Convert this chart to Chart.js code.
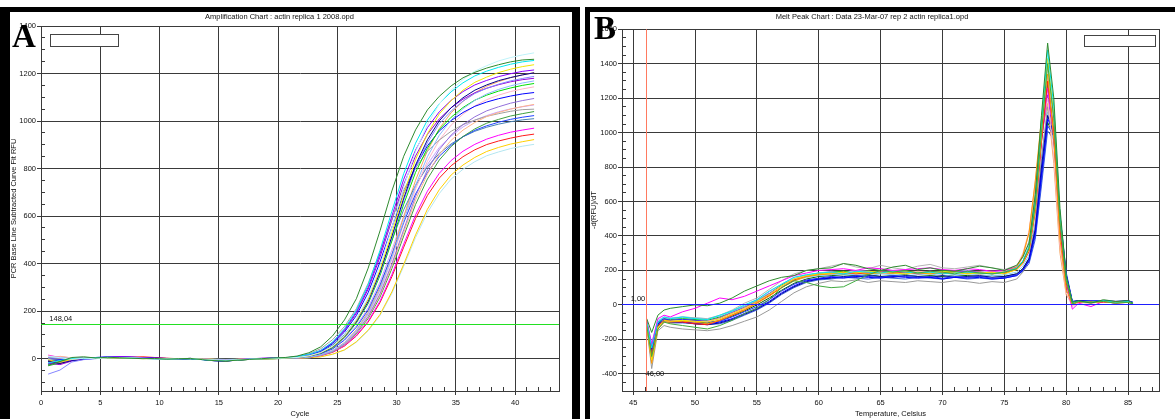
<!DOCTYPE html>
<html>
<head>
<meta charset="utf-8">
<title>Amplification and melt peak charts</title>
<script src="https://cdn.jsdelivr.net/npm/chart.js@4.4.1/dist/chart.umd.min.js"></script>
<style>
  html, body { margin: 0; padding: 0; background: #fff; }
  body { position: relative; width: 1175px; height: 419px; overflow: hidden; }
  canvas { position: absolute; top: 0; }
  #ampChart { left: 0; }
  #meltChart { left: 585px; }
  .frame { position: absolute; top: 7px; height: 440px; box-sizing: border-box; border: 0 solid #000; }
  #frameA { left: 0; width: 580px; border-width: 5px 8px 0 10px; }
  #frameB { left: 585px; width: 620px; border-width: 5px 0 0 5px; }
  .tag { position: absolute; font: bold 33px "Liberation Serif", "Times New Roman", serif; line-height: 1; color: #000; }
  .legendBox { position: absolute; box-sizing: border-box; background: #fff; border: 1px solid #444; }
</style>
</head>
<body>
<canvas id="ampChart" width="580" height="419"></canvas>
<canvas id="meltChart" width="590" height="419"></canvas>
<div class="frame" id="frameA"></div>
<div class="frame" id="frameB"></div>
<div class="legendBox" style="left:50px;top:34px;width:69px;height:13px"></div>
<div class="legendBox" style="left:1084px;top:35px;width:72px;height:12px"></div>
<div class="tag" style="left:12px;top:20px">A</div>
<div class="tag" style="left:594px;top:12px">B</div>
<script>
// ---- panel A : amplification curves (RFU per cycle) ----
const cycles = [0.6, 1.6, 2.6, 3.6, 4.6, 5.6, 6.6, 7.6, 8.6, 9.6, 10.6, 11.6, 12.6, 13.6, 14.6, 15.6, 16.6, 17.6, 18.6, 19.6, 20.6,
  21.6, 22.6, 23.6, 24.6, 25.6, 26.6, 27.6, 28.6, 29.6, 30.6, 31.6, 32.6, 33.6, 34.6, 35.6, 36.6, 37.6, 38.6, 39.6, 40.6, 41.6];

const amp01 = [-28, -12, 5, 8, 3, 6, 4, 2, 0, 1, -2, 0, 1, -4, -8, -10, -6, -3, 0, 3, 5, 11, 25, 50, 96, 163, 252, 381, 538, 706, 852, 963, 1047, 1104, 1148, 1182, 1205, 1223, 1237, 1249, 1257, 1260];
const amp02 = [10, 4, -3, 2, 0, 3, 5, 4, 2, 0, -1, 0, 2, -3, -5, -6, -4, -2, 0, 1, 3, 5, 12, 26, 52, 98, 166, 258, 390, 551, 722, 872, 986, 1072, 1130, 1175, 1210, 1233, 1253, 1267, 1278, 1287];
const amp03 = [-18, -8, 2, 0, 4, 6, 5, 3, 1, 0, -2, -1, 0, -4, -7, -8, -5, -2, 0, 2, 4, 8, 18, 35, 70, 126, 203, 311, 456, 620, 779, 907, 1004, 1073, 1123, 1161, 1190, 1210, 1226, 1239, 1249, 1255];
const amp04 = [-5, -15, -3, 2, 1, 3, 4, 2, 0, 1, -1, 0, 1, -2, -6, -9, -5, -3, -1, 0, 2, 5, 11, 25, 50, 94, 160, 248, 374, 529, 694, 838, 947, 1030, 1086, 1130, 1163, 1185, 1204, 1218, 1229, 1237];
const amp05 = [-22, -15, -5, 0, 3, 8, 9, 7, 4, 2, 0, -1, 1, -3, -6, -8, -4, -1, 2, 3, 4, 7, 17, 34, 68, 122, 197, 301, 441, 600, 755, 878, 972, 1039, 1087, 1124, 1152, 1171, 1187, 1199, 1209, 1215];
const amp06 = [-12, -20, -8, 0, 2, 4, 6, 5, 3, 1, 0, -2, 0, -3, -9, -10, -6, -3, 0, 1, 2, 5, 11, 24, 48, 92, 155, 241, 364, 515, 675, 815, 921, 1001, 1056, 1098, 1130, 1152, 1170, 1183, 1194, 1203];
const amp07 = [-65, -48, -14, -4, 0, 5, 4, 3, 2, 0, -1, 0, 1, -2, -4, -6, -4, -2, 0, 1, 2, 5, 11, 24, 48, 90, 154, 238, 359, 508, 666, 804, 909, 989, 1042, 1084, 1116, 1138, 1155, 1169, 1179, 1188];
const amp08 = [8, 5, 0, 3, 4, 6, 5, 3, 2, 0, -1, 0, 1, -2, -5, -7, -5, -3, -1, 0, 1, 4, 7, 16, 33, 66, 118, 190, 291, 427, 580, 730, 850, 940, 1005, 1052, 1087, 1114, 1133, 1148, 1160, 1169];
const amp09 = [-25, -10, -2, 1, 2, 3, 4, 2, 1, 0, 0, -1, 0, -3, -6, -9, -6, -3, -1, 0, 2, 5, 10, 23, 46, 88, 150, 232, 350, 495, 650, 784, 886, 964, 1016, 1057, 1088, 1109, 1126, 1139, 1150, 1158];
const amp10 = [-8, -5, 0, 3, 5, 8, 7, 6, 4, 3, 1, 0, 1, -4, -8, -10, -6, -2, 0, 2, 3, 7, 16, 31, 63, 112, 181, 278, 407, 553, 696, 810, 896, 958, 1002, 1036, 1062, 1080, 1094, 1105, 1114, 1120];
const amp11 = [5, 2, -4, 0, 2, 4, 5, 4, 2, 1, 0, -1, 0, -2, -4, -6, -4, -2, 0, 1, 1, 3, 7, 15, 31, 62, 110, 178, 273, 399, 543, 683, 795, 880, 941, 985, 1018, 1043, 1060, 1075, 1086, 1095];
const amp12 = [12, 6, 0, 1, 3, 5, 4, 3, 2, 1, 0, 0, 1, -1, -3, -5, -3, -1, 0, 1, 2, 3, 6, 15, 30, 60, 108, 174, 267, 390, 531, 668, 777, 860, 919, 962, 994, 1019, 1036, 1050, 1061, 1070];
const amp13 = [0, -6, -2, 2, 4, 5, 3, 2, 1, 0, -1, 0, 0, -3, -5, -7, -4, -2, 0, 2, 4, 9, 21, 42, 80, 135, 210, 317, 448, 588, 710, 802, 873, 920, 957, 985, 1004, 1020, 1031, 1041, 1048, 1050];
const amp14 = [-30, -18, -6, 0, 2, 4, 6, 5, 3, 1, 0, -1, 0, -3, -7, -9, -6, -3, -1, 0, 1, 3, 6, 15, 29, 59, 105, 169, 259, 379, 516, 649, 756, 836, 893, 935, 967, 991, 1007, 1021, 1031, 1040];
const amp15 = [3, -4, -8, -2, 1, 3, 4, 3, 1, 0, -1, -1, 0, -3, -8, -9, -5, -2, 0, 1, 2, 4, 9, 21, 41, 78, 132, 205, 310, 438, 574, 693, 783, 852, 898, 934, 961, 980, 995, 1007, 1016, 1023];
const amp16 = [15, 5, -2, 1, 3, 4, 5, 4, 2, 1, 0, 0, 1, -2, -4, -5, -3, -1, 0, 1, 1, 3, 6, 14, 27, 55, 98, 158, 242, 354, 482, 605, 705, 780, 834, 873, 902, 924, 940, 953, 962, 970];
const amp17 = [-10, -20, -5, 0, 2, 3, 5, 6, 8, 5, 2, 0, 1, -2, -5, -6, -4, -2, 0, 0, 1, 3, 6, 13, 27, 53, 95, 154, 236, 345, 469, 590, 687, 760, 812, 850, 879, 901, 916, 928, 938, 945];
const amp18 = [6, 2, -2, 1, 2, 3, 4, 3, 2, 1, 0, 0, 1, -1, -3, -4, -3, -1, 0, 1, 1, 2, 4, 8, 19, 37, 71, 120, 186, 281, 397, 521, 629, 711, 773, 815, 847, 872, 889, 903, 913, 922];
const amp19 = [-4, 0, 3, 2, 1, 2, 3, 2, 1, 0, 0, 0, 1, -1, -2, -3, -2, -1, 0, 0, 1, 2, 4, 8, 18, 36, 69, 117, 182, 275, 389, 510, 615, 695, 756, 797, 829, 854, 870, 884, 894, 902];
const amp20 = [2, 8, 4, 2, 3, 4, 3, 2, 1, 0, 0, 1, 0, -2, -4, -5, -3, -1, 0, 1, 2, 3, 7, 16, 32, 64, 115, 186, 285, 417, 568, 714, 831, 920, 983, 1029, 1064, 1090, 1109, 1124, 1135, 1144];
const amp21 = [-20, -25, -10, -3, 2, 6, 8, 7, 5, 3, 1, 0, 1, -3, -7, -8, -5, -2, 1, 3, 4, 7, 17, 33, 66, 118, 191, 293, 428, 583, 733, 853, 944, 1009, 1056, 1092, 1119, 1138, 1153, 1165, 1174, 1180];
const amp22 = [-15, -5, 0, 2, 3, 5, 6, 4, 2, 1, 0, -1, 0, -2, -6, -8, -5, -2, 0, 2, 3, 6, 14, 28, 57, 101, 164, 250, 367, 499, 627, 730, 808, 864, 904, 934, 957, 974, 987, 997, 1005, 1010];
const amp23 = [-8, 10, 3, 1, 2, 3, 4, 3, 2, 1, 0, 0, 1, -1, -3, -5, -3, -1, 0, 1, 2, 4, 7, 17, 34, 68, 121, 196, 300, 439, 598, 751, 875, 968, 1035, 1083, 1119, 1147, 1166, 1182, 1194, 1204];
const amp24 = [-6, -12, -4, 0, 2, 4, 5, 3, 2, 1, 0, 0, 1, -2, -5, -6, -4, -2, 0, 1, 2, 4, 10, 21, 43, 81, 138, 214, 323, 457, 599, 723, 817, 889, 937, 975, 1004, 1023, 1039, 1051, 1060, 1068];

const ampSeries = [
  ['A1', '#2e8b2e', amp01], ['A2', '#bff3fa', amp02], ['A3', '#00e8f0', amp03], ['A4', '#f2e600', amp04],
  ['A5', '#8a00ff', amp05], ['A6', '#000090', amp06], ['A7', '#8585ff', amp07], ['A8', '#8ab8ff', amp08],
  ['A9', '#00e000', amp09], ['A10', '#0000ff', amp10], ['A11', '#9370db', amp11], ['A12', '#ffb48a', amp12],
  ['B1', '#a0a0a0', amp13], ['B2', '#3f9f3f', amp14], ['B3', '#2244ff', amp15], ['B4', '#ff00ff', amp16],
  ['B5', '#ff1a1a', amp17], ['B6', '#ffd000', amp18], ['B7', '#b4e6f0', amp19], ['B8', '#ffb6c8', amp20],
  ['B9', '#9a00d8', amp21], ['B10', '#4682b4', amp22], ['B11', '#f4a460', amp23], ['B12', '#c8a2ff', amp24]
];
const ampXTicks = [0, 5, 10, 15, 20, 25, 30, 35, 40];
const ampYTicks = [0, 200, 400, 600, 800, 1000, 1200, 1400];
const ampThreshold = 148.04;

// ---- panel B : melt peaks, -d(RFU)/dT per temperature ----
const temps = [46.1, 46.5, 47, 47.5, 48, 49, 50, 51, 52, 53, 54, 55, 56, 57, 58, 59, 60, 61, 62, 63, 64, 65, 66, 67, 68,
  69, 70, 71, 72, 73, 74, 75, 76, 76.5, 77, 77.5, 78, 78.5, 79, 79.5, 80, 80.5, 81, 82, 83, 84, 85, 85.4];

const melt01 = [-80, -160, -60, -30, -20, -10, 0, -5, 10, 40, 80, 110, 140, 160, 170, 200, 210, 215, 240, 230, 210, 200, 220, 230, 205, 215, 200, 195, 210, 225, 215, 200, 230, 280, 360, 640, 1100, 1520, 1200, 560, 170, 15, 25, 10, 30, 20, 25, 10];
const melt02 = [-120, -300, -140, -100, -110, -120, -130, -140, -120, -90, -50, -20, 30, 100, 140, 130, 110, 100, 105, 140, 175, 200, 190, 200, 185, 195, 190, 180, 195, 185, 180, 190, 210, 250, 330, 580, 1000, 1400, 1080, 480, 140, 5, 20, 15, 20, 10, 15, 5];
const melt03 = [-100, -250, -100, -70, -80, -70, -80, -85, -60, -35, 0, 30, 80, 120, 160, 175, 185, 190, 180, 195, 190, 185, 195, 190, 185, 190, 180, 185, 190, 185, 180, 190, 215, 255, 340, 600, 1050, 1480, 1150, 520, 160, 15, 20, 15, 25, 15, 20, 10];
const melt04 = [-110, -320, -130, -90, -95, -90, -95, -100, -80, -50, -20, 20, 60, 110, 150, 170, 180, 185, 190, 185, 195, 190, 185, 180, 190, 185, 195, 190, 180, 185, 190, 180, 205, 245, 320, 560, 980, 1430, 1100, 500, 150, 10, 20, 15, 20, 15, 15, 10];
const melt05 = [-120, -340, -140, -100, -100, -95, -100, -110, -90, -60, -30, 10, 50, 100, 140, 165, 175, 180, 185, 190, 180, 185, 190, 195, 185, 180, 185, 190, 185, 180, 185, 190, 220, 290, 420, 720, 1080, 1340, 960, 380, 90, 0, 20, 15, 20, 10, 15, 10];
const melt06 = [-100, -290, -120, -90, -95, -100, -110, -115, -90, -60, -30, 10, 55, 100, 145, 165, 180, 185, 190, 180, 185, 190, 185, 190, 180, 185, 180, 190, 185, 190, 180, 185, 205, 240, 310, 540, 940, 1300, 1000, 440, 130, 10, 15, 20, 15, 20, 15, 10];
const melt07 = [-90, -230, -80, -60, -70, -40, -20, 10, 40, 30, 50, 80, 110, 140, 170, 185, 200, 205, 210, 200, 215, 210, 200, 205, 210, 215, 205, 200, 210, 205, 195, 200, 220, 250, 320, 560, 960, 1260, 980, 430, 120, -25, 10, -10, 20, 10, 15, 5];
const melt08 = [-120, -300, -130, -100, -95, -90, -100, -95, -80, -50, -20, 10, 60, 110, 150, 170, 185, 190, 185, 195, 190, 185, 190, 185, 195, 190, 185, 190, 185, 190, 185, 195, 225, 300, 430, 720, 1020, 1200, 860, 340, 70, -10, 15, 10, 20, 15, 20, 10];
const melt09 = [-110, -260, -110, -90, -100, -100, -105, -110, -100, -80, -50, -20, 20, 70, 110, 140, 150, 160, 155, 165, 160, 155, 165, 160, 155, 160, 150, 160, 155, 160, 150, 155, 170, 200, 260, 420, 760, 1080, 1000, 520, 180, 20, 25, 20, 25, 20, 25, 15];
const melt10 = [-100, -240, -100, -80, -90, -85, -90, -100, -95, -70, -40, -10, 30, 80, 120, 145, 155, 165, 160, 170, 165, 160, 170, 165, 160, 165, 155, 165, 160, 165, 155, 160, 175, 205, 250, 400, 720, 1040, 980, 500, 170, 15, 20, 25, 20, 15, 20, 10];
const melt11 = [-120, -290, -120, -95, -100, -100, -110, -115, -105, -85, -55, -25, 15, 65, 105, 135, 150, 155, 165, 160, 170, 165, 160, 170, 165, 160, 170, 160, 165, 170, 160, 165, 180, 210, 270, 440, 800, 1100, 990, 480, 160, 15, 25, 20, 20, 15, 25, 10];
const melt12 = [-130, -370, -150, -120, -130, -140, -145, -150, -140, -120, -95, -70, -30, 20, 70, 105, 125, 140, 135, 145, 130, 140, 135, 130, 140, 135, 130, 140, 135, 125, 135, 130, 150, 190, 260, 470, 850, 1150, 960, 450, 140, 10, 20, 15, 20, 15, 20, 10];
const melt13 = [-100, -260, -100, -75, -80, -70, -75, -80, -60, -30, 10, 40, 90, 140, 180, 200, 210, 225, 240, 220, 210, 230, 215, 205, 225, 235, 215, 210, 220, 230, 215, 205, 230, 275, 370, 650, 1080, 1380, 1060, 470, 140, 10, 20, 15, 20, 10, 20, 10];
const melt14 = [-110, -310, -120, -85, -90, -85, -90, -95, -75, -45, -15, 20, 65, 110, 150, 170, 180, 190, 185, 190, 185, 195, 190, 185, 190, 195, 185, 190, 195, 190, 185, 190, 210, 250, 330, 560, 950, 1220, 960, 420, 120, 10, 20, 15, 20, 15, 20, 10];
const melt15 = [-90, -220, -90, -70, -75, -70, -75, -80, -65, -40, -10, 25, 65, 110, 145, 160, 170, 175, 180, 175, 170, 180, 175, 170, 175, 180, 170, 175, 180, 175, 170, 175, 190, 225, 290, 480, 860, 1120, 940, 440, 140, 10, 20, 15, 20, 15, 20, 10];
const melt16 = [-120, -330, -140, -100, -105, -100, -105, -110, -85, -55, -25, 15, 55, 100, 140, 160, 175, 180, 185, 180, 190, 185, 180, 190, 185, 180, 185, 190, 180, 185, 190, 180, 210, 280, 420, 700, 990, 1170, 820, 300, 60, 0, 15, 10, 20, 15, 15, 10];
const melt17 = [-105, -280, -110, -80, -85, -80, -85, -90, -70, -40, -10, 25, 65, 115, 150, 170, 185, 190, 195, 185, 195, 190, 185, 195, 190, 185, 190, 195, 185, 190, 185, 190, 210, 250, 330, 570, 970, 1280, 1000, 450, 140, 10, 20, 15, 20, 10, 20, 10];
const melt18 = [-115, -270, -115, -95, -105, -105, -110, -115, -110, -90, -60, -30, 10, 60, 100, 130, 145, 150, 160, 155, 150, 160, 155, 150, 160, 155, 150, 160, 150, 155, 150, 155, 170, 195, 240, 380, 690, 1010, 960, 520, 190, 20, 25, 20, 25, 20, 20, 15];
const melt19 = [-100, -270, -105, -75, -80, -75, -80, -85, -65, -35, -5, 30, 75, 120, 160, 175, 185, 195, 190, 200, 195, 190, 200, 195, 190, 195, 190, 195, 200, 190, 195, 190, 215, 255, 340, 600, 1020, 1320, 1020, 460, 140, 10, 20, 15, 20, 15, 20, 10];
const melt20 = [-115, -290, -120, -90, -95, -95, -100, -105, -90, -65, -35, 0, 40, 85, 125, 150, 165, 170, 175, 170, 175, 165, 170, 175, 165, 170, 165, 175, 170, 165, 170, 165, 180, 210, 270, 430, 760, 1060, 980, 500, 170, 15, 25, 20, 20, 15, 20, 10];

const meltSeries = [
  ['A1', '#2e8b2e', melt01], ['A2', '#3faa3f', melt02], ['A3', '#00e8f0', melt03], ['A4', '#f2e600', melt04],
  ['A5', '#ff9900', melt05], ['A6', '#ff1a1a', melt06], ['A7', '#ff00ff', melt07], ['A8', '#ffb6c8', melt08],
  ['A9', '#0000ff', melt09], ['A10', '#2233ee', melt10], ['B1', '#000090', melt11], ['B2', '#999999', melt12],
  ['B3', '#b4b4b4', melt13], ['B4', '#8a2be2', melt14], ['B5', '#87cefa', melt15], ['B6', '#f4a460', melt16],
  ['B7', '#00d000', melt17], ['B8', '#4169e1', melt18], ['B9', '#b0a0ff', melt19], ['B10', '#006400', melt20]
];
const meltXTicks = [45, 50, 55, 60, 65, 70, 75, 80, 85];
const meltYTicks = [-400, -200, 0, 200, 400, 600, 800, 1000, 1200, 1400, 1600];
const meltThreshold = 1.00;
const meltStart = 46;

Chart.defaults.font.family = 'Arial, "Liberation Sans", sans-serif';
Chart.defaults.font.size = 7.5;
Chart.defaults.color = '#111';

const gridColor = '#3a3a3a';

function toPoints(xs, ys) {
  return xs.map((x, i) => ({ x: x, y: ys[i] }));
}

// same snapping Chart.js uses for 1px grid lines
function crisp(p) {
  return Math.round(p - 0.5) + 0.5;
}

// minor ticks, plot frame, threshold lines and their labels
const panelExtras = {
  id: 'panelExtras',
  beforeDatasetsDraw(chart) {
    const { ctx, chartArea: a, scales: { x, y } } = chart;
    ctx.save();
    ctx.strokeStyle = gridColor;
    ctx.lineWidth = 1;
    ctx.beginPath();
    for (let v = Math.ceil(x.min); v <= x.max; v++) {
      if (v % 5 === 0) continue;
      const px = crisp(x.getPixelForValue(v));
      ctx.moveTo(px, a.bottom);
      ctx.lineTo(px, a.bottom - 4);
    }
    for (let v = Math.ceil(y.min / 50) * 50; v <= y.max; v += 50) {
      if (v % 200 === 0) continue;
      const py = crisp(y.getPixelForValue(v));
      ctx.moveTo(a.left, py);
      ctx.lineTo(a.left + 4, py);
    }
    ctx.stroke();
    const l = crisp(a.left), t = crisp(a.top), r = crisp(a.right), b = crisp(a.bottom);
    ctx.strokeRect(l, t, r - l, b - t);
    ctx.restore();
  },
  afterDatasetsDraw(chart, args, o) {
    const { ctx, chartArea: a, scales: { x, y } } = chart;
    ctx.save();
    ctx.lineWidth = 1;
    ctx.font = '7.5px Arial, "Liberation Sans", sans-serif';
    ctx.fillStyle = '#111';
    if (o.hLine) {
      const raw = y.getPixelForValue(o.hLine.value);
      const py = o.hLine.snap ? crisp(raw) : Math.round(raw) + 0.5;
      ctx.strokeStyle = o.hLine.color;
      ctx.beginPath();
      ctx.moveTo(a.left, py);
      ctx.lineTo(a.right, py);
      ctx.stroke();
      ctx.textAlign = 'left';
      ctx.textBaseline = 'bottom';
      ctx.fillText(o.hLine.label, x.getPixelForValue(o.hLine.labelAt), py - 2);
    }
    if (o.vLine) {
      const px = Math.round(x.getPixelForValue(o.vLine.value)) + 0.5;
      ctx.strokeStyle = o.vLine.color;
      ctx.beginPath();
      ctx.moveTo(px, a.top);
      ctx.lineTo(px, a.bottom);
      ctx.stroke();
      ctx.textAlign = 'left';
      ctx.textBaseline = 'middle';
      ctx.fillText(o.vLine.label, px - 1, y.getPixelForValue(o.vLine.labelAt));
    }
    ctx.restore();
  }
};

function panelScales(cfg) {
  return {
    x: {
      type: 'linear', min: cfg.xMin, max: cfg.xMax,
      afterBuildTicks: s => { s.ticks = cfg.xTicks.map(v => ({ value: v })); },
      afterFit: s => { s.height = 28; },
      ticks: { padding: 3, maxRotation: 0, autoSkip: false, callback: v => String(v) },
      grid: { color: gridColor, tickLength: 4 },
      border: { color: gridColor },
      title: { display: true, text: cfg.xTitle, padding: { top: 0, bottom: 0.5 } }
    },
    y: {
      type: 'linear', min: cfg.yMin, max: cfg.yMax,
      afterBuildTicks: s => { s.ticks = cfg.yTicks.map(v => ({ value: v })); },
      afterFit: s => { s.width = cfg.yWidth; },
      ticks: { padding: 1, autoSkip: false, callback: v => String(v) },
      grid: { color: gridColor, tickLength: 4 },
      border: { color: gridColor },
      title: { display: true, text: cfg.yTitle, padding: { top: cfg.yTitlePad, bottom: 0 } }
    }
  };
}

function baseOptions(title, titleBottom, padRight, extras, scales) {
  return {
    responsive: false,
    animation: false,
    events: [],
    layout: { padding: { top: 0, right: padRight, bottom: 0, left: 0 } },
    elements: { point: { radius: 0 }, line: { borderWidth: 1, tension: 0 } },
    plugins: {
      legend: { display: false },
      tooltip: { enabled: false },
      title: {
        display: true, text: title,
        font: { size: 7.5, weight: 'normal' },
        padding: { top: 12.5, bottom: titleBottom }
      },
      panelExtras: extras
    },
    scales: scales
  };
}

new Chart(document.getElementById('ampChart'), {
  type: 'line',
  data: {
    datasets: ampSeries.map(([label, color, vals]) => ({
      label: label, data: toPoints(cycles, vals), borderColor: color, borderWidth: 1
    }))
  },
  options: baseOptions('Amplification Chart : actin replica 1 2008.opd', 4.5, 21,
    { hLine: { value: ampThreshold, color: '#22e022', label: '148,04', labelAt: 0.7 } },
    panelScales({
      xMin: 0, xMax: 43.7, xTicks: ampXTicks, xTitle: 'Cycle',
      yMin: -136, yMax: 1400, yTicks: ampYTicks, yWidth: 41,
      yTitle: 'PCR Base Line Subtracted Curve Fit RFU', yTitlePad: 9
    })),
  plugins: [panelExtras]
});

new Chart(document.getElementById('meltChart'), {
  type: 'line',
  data: {
    datasets: meltSeries.map(([label, color, vals]) => ({
      label: label, data: toPoints(temps, vals), borderColor: color, borderWidth: 1
    }))
  },
  options: baseOptions('Melt Peak Chart : Data 23-Mar-07 rep 2 actin replica1.opd', 7.8, 16,
    {
      hLine: { value: meltThreshold, color: '#1e1eff', label: '1,00', labelAt: 44.8, snap: true },
      vLine: { value: meltStart, color: '#ff7a60', label: '46,00', labelAt: -400 }
    },
    panelScales({
      xMin: 44.1, xMax: 87.5, xTicks: meltXTicks, xTitle: 'Temperature, Celsius',
      yMin: -500, yMax: 1600, yTicks: meltYTicks, yWidth: 37,
      yTitle: '-d(RFU)/dT', yTitlePad: 4
    })),
  plugins: [panelExtras]
});
</script>
</body>
</html>
